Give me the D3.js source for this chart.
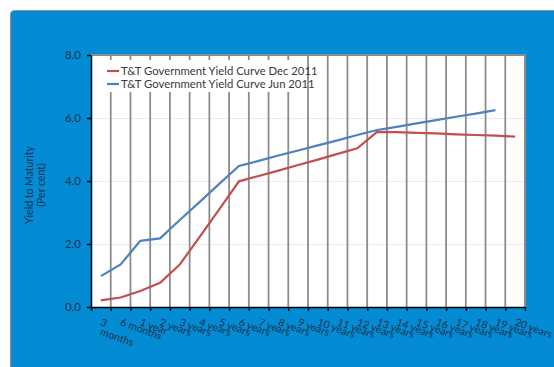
<!DOCTYPE html>
<html>
<head>
<meta charset="utf-8">
<script src="https://cdn.jsdelivr.net/npm/d3@7/dist/d3.min.js"></script>
<style>
    body { margin: 0; background: #ffffff; }
    svg { display: block; }
</style>
</head>
<body>
<script>
// Chart data
const categories = [
    '3 months', '6 months', '1 year', '2 years', '3 years', '4 years', '5 years',
    '6 years', '7 years', '8 years', '9 years', '10 years', '11 years', '12 years',
    '13 years', '14 years', '15 years', '16 years', '17 years', '18 years',
    '19 years', '20 years',
];
const dec2011 = [
    0.21, 0.30, 0.51, 0.77, 1.35, 2.22, 3.10, 3.99, 4.16, 4.33, 4.51,
    4.68, 4.86, 5.04, 5.56, 5.55, 5.53, 5.51, 5.48, 5.46, 5.44, 5.41,
];
const jun2011 = [
    0.98, 1.35, 2.10, 2.18, 2.76, 3.33, 3.91, 4.48, 4.64, 4.81, 4.97,
    5.13, 5.29, 5.46, 5.62, 5.72, 5.83, 5.93, 6.04, 6.14, 6.25,
];
const yTicks = [0, 2, 4, 6, 8];
const seriesNames = [
    'T&T Government Yield Curve Dec 2011',
    'T&T Government Yield Curve Jun 2011',
];

const width = 554;
const height = 367;
const plot = { left: 91, right: 525, top: 55, bottom: 307 };
const colors = { dec: '#c0504d', jun: '#4f81bd', panel: '#038cd3', text: '#15304f' };
const font = 'Lato, sans-serif';

const svg = d3.select('body')
    .append('svg')
        .attr('width', width)
        .attr('height', height);

// Blue background panel
svg.append('rect')
    .attr('x', 10.5)
    .attr('y', 10.5)
    .attr('width', 560)
    .attr('height', 380)
    .attr('rx', 4)
    .attr('fill', colors.panel)
    .attr('stroke', '#8a8f94')
    .attr('stroke-width', 1);

// Scales
const x = d3.scaleBand()
    .domain(categories)
    .range([plot.left, plot.right]);
const xEdge = d3.scaleLinear()
    .domain([0, categories.length])
    .range([plot.left, plot.right]);
const y = d3.scaleLinear()
    .domain([0, 8])
    .range([plot.bottom, plot.top]);

const xMid = (d) => x(d) + x.bandwidth() / 2;

// Plot area
svg.append('rect')
    .attr('x', plot.left)
    .attr('y', plot.top)
    .attr('width', plot.right - plot.left)
    .attr('height', plot.bottom - plot.top)
    .attr('fill', '#ffffff');

// Horizontal gridlines (faint)
svg.append('g')
    .selectAll('line')
    .data(yTicks.slice(1, -1))
    .join('line')
        .attr('x1', plot.left)
        .attr('x2', plot.right)
        .attr('y1', d => y(d) + 0.5)
        .attr('y2', d => y(d) + 0.5)
        .attr('stroke', '#ebebf2')
        .attr('stroke-width', 1);

// Vertical gridlines between categories
svg.append('g')
    .selectAll('line')
    .data(d3.range(1, categories.length))
    .join('line')
        .attr('x1', d => xEdge(d))
        .attr('x2', d => xEdge(d))
        .attr('y1', plot.top)
        .attr('y2', plot.bottom)
        .attr('stroke', '#8c8c8c')
        .attr('stroke-width', 1.8);

// Top and right border of plot
svg.append('path')
    .attr('d', `M${plot.left},${plot.top}H${plot.right}V${plot.bottom}`)
    .attr('fill', 'none')
    .attr('stroke', '#8c8c8c')
    .attr('stroke-width', 2);

// Axes
const xAxis = d3.axisBottom(xEdge)
    .tickValues(d3.range(0, categories.length + 1))
    .tickSize(4)
    .tickSizeOuter(0)
    .tickFormat('');
svg.append('g')
    .attr('transform', `translate(0, ${plot.bottom})`)
    .call(xAxis)
    .call(g => g.selectAll('line, path').attr('stroke', '#000').attr('stroke-width', 1.5));

const yAxis = d3.axisLeft(y)
    .tickValues(yTicks)
    .tickSize(4)
    .tickSizeOuter(0)
    .tickFormat(d3.format('.1f'));
svg.append('g')
    .attr('transform', `translate(${plot.left}, 0)`)
    .call(yAxis)
    .call(g => g.selectAll('line, path').attr('stroke', '#000').attr('stroke-width', 1.5))
    .call(g => g.selectAll('text')
        .attr('x', -10)
        .attr('fill', colors.text)
        .attr('font-family', font)
        .attr('font-size', 11.5));

// Category labels, rotated
const xLabels = svg.append('g')
    .selectAll('text')
    .data(categories)
    .join('text')
        .attr('transform', d => `translate(${xMid(d) - 1}, ${plot.bottom + 18}) rotate(20)`)
        .attr('fill', colors.text)
        .attr('font-family', font)
        .attr('font-size', 10.5);
xLabels.each(function (d) {
    const t = d3.select(this);
    if (d === '3 months') {
        t.append('tspan').attr('x', 0).text('3');
        t.append('tspan').attr('x', 3).attr('dy', 9).text('months');
    } else {
        t.text(d);
    }
});

// Y axis title
svg.append('text')
    .attr('transform', 'translate(33, 185) rotate(-90)')
    .attr('text-anchor', 'middle')
    .attr('fill', colors.text)
    .attr('font-family', font)
    .attr('font-size', 10.5)
    .call(t => {
        t.append('tspan').attr('x', 0).attr('dy', 0).text('Yield to Maturity');
        t.append('tspan').attr('x', 0).attr('dy', 12).text('(Per cent)');
    });

// Lines
const line = d3.line()
    .x((d, i) => xMid(categories[i]))
    .y(d => y(d));

svg.append('path')
    .datum(dec2011)
    .attr('d', line)
    .attr('fill', 'none')
    .attr('stroke', colors.dec)
    .attr('stroke-width', 2.2);

svg.append('path')
    .datum(jun2011)
    .attr('d', line)
    .attr('fill', 'none')
    .attr('stroke', colors.jun)
    .attr('stroke-width', 2.2);

// Legend, on a white box that hides the gridlines behind it
svg.append('rect')
    .attr('x', 100)
    .attr('y', 60)
    .attr('width', 206)
    .attr('height', 32)
    .attr('fill', '#ffffff');

const legend = svg.append('g')
    .selectAll('g')
    .data(seriesNames)
    .join('g')
        .attr('transform', (d, i) => `translate(107, ${71 + i * 13})`);
legend.append('line')
    .attr('x1', 0)
    .attr('x2', 12)
    .attr('stroke', (d, i) => i === 0 ? colors.dec : colors.jun)
    .attr('stroke-width', 2.2);
legend.append('text')
    .attr('x', 14)
    .attr('y', 4)
    .attr('fill', '#3a3a3a')
    .attr('font-family', font)
    .attr('font-size', 11.3)
    .text(d => d);
</script>
</body>
</html>
